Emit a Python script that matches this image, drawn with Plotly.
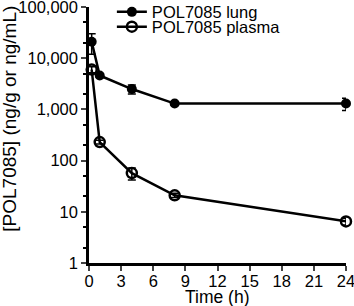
import plotly.graph_objects as go

time_h = [0.25, 1, 4, 8, 24]
lung = [21000, 4600, 2500, 1300, 1300]
lung_err = [9000, 300, 500, 100, 350]
plasma = [6000, 230, 57, 21, 6.5]
plasma_err = [800, 20, 15, 2, 1]
ytick_vals = [1, 10, 100, 1000, 10000, 100000]
ytick_text = ["1", "10", "100", "1,000", "10,000", "100,000"]
xtick_vals = [0, 3, 6, 9, 12, 15, 18, 21, 24]

FAM = "Liberation Sans, Arial, Helvetica, sans-serif"
font = dict(family=FAM, size=16.5, color="black")

fig = go.Figure()
fig.add_trace(go.Scatter(
    x=time_h, y=lung, name="POL7085 lung", mode="lines+markers",
    line=dict(color="black", width=2.5),
    marker=dict(symbol="circle", size=10, color="black"),
    error_y=dict(type="data", array=lung_err, color="black", thickness=1.5, width=4),
    cliponaxis=False, legend="legend",
))
fig.add_trace(go.Scatter(
    x=time_h, y=plasma, name="POL7085 plasma", mode="lines+markers",
    line=dict(color="black", width=2.5),
    marker=dict(symbol="circle-open", size=10, color="black", line=dict(width=2.5)),
    error_y=dict(type="data", array=plasma_err, color="black", thickness=1.5, width=4),
    cliponaxis=False, legend="legend2",
))

leg_common = dict(xanchor="left", yanchor="middle", bgcolor="rgba(0,0,0,0)",
                  font=dict(family=FAM, size=16.5, color="black"), itemwidth=30)

fig.update_layout(
    width=354, height=306,
    margin=dict(l=89, r=8, t=7, b=43, autoexpand=False),
    plot_bgcolor="white", paper_bgcolor="white",
    font=font,
    showlegend=True,
    legend=dict(x=0.089, y=0.98, **leg_common),
    legend2=dict(x=0.089, y=0.922, **leg_common),
    xaxis=dict(
        range=[0, 24], tickvals=xtick_vals, ticks="outside", ticklen=5, tickwidth=2,
        showline=True, linecolor="black", linewidth=2.5, showgrid=False, zeroline=False,
        automargin=False, tickfont=dict(size=16.5), ticklabeloverflow="allow",
        ticklabelstandoff=-4,
    ),
    yaxis=dict(
        type="log", range=[0, 5], tickvals=ytick_vals, ticktext=ytick_text,
        ticks="outside", ticklen=5, tickwidth=2,
        showline=True, linecolor="black", linewidth=2.5, showgrid=False, zeroline=False,
        minor=dict(ticks="outside", ticklen=3, tickwidth=1.5, tickcolor="black", showgrid=False),
        automargin=False, tickfont=dict(size=16.5), ticklabeloverflow="allow",
    ),
    annotations=[
        dict(text="Time (h)", xref="paper", yref="paper", x=0.5, y=-0.132,
             xanchor="center", yanchor="middle", showarrow=False,
             font=dict(family=FAM, size=17.5, color="black")),
        dict(text="[POL7085] (ng/g or ng/mL)", xref="paper", yref="paper",
             x=-0.31, y=0.565, xanchor="center", yanchor="middle", textangle=-90,
             showarrow=False, font=dict(family=FAM, size=19, color="black")),
    ],
)

fig.write_html("out.html", config={"displayModeBar": False},
               post_script="document.body.style.margin='0';document.body.style.overflow='hidden';")
